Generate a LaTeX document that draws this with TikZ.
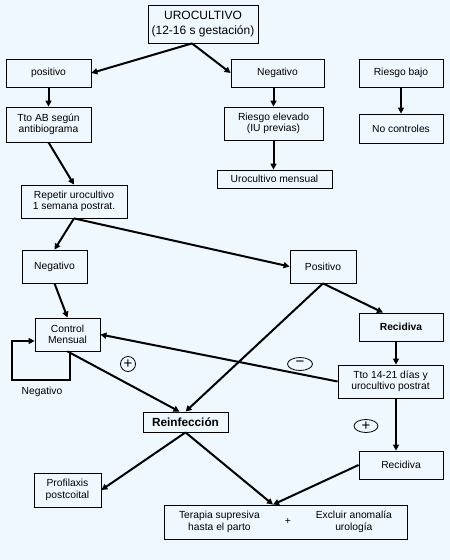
\documentclass[tikz,border=0pt]{standalone}
\usepackage{fontspec}
\setmainfont{Liberation Sans}
\usetikzlibrary{arrows.meta, positioning, shapes.geometric, calc}
\definecolor{fondo}{RGB}{240,248,255}

\begin{document}
\begin{tikzpicture}[x=1pt, y=1pt, on grid]

    \tikzset{
        caja/.style={draw, line width=0.8pt, align=center, inner sep=1pt, font=\fontsize{10.3}{11.5}\selectfont},
        flecha/.style={-{Triangle[length=6pt,width=6pt]}, line width=2pt},
        signo/.style={draw, ellipse, line width=0.8pt, inner sep=0pt, font=\fontsize{15}{15}\selectfont}
    }

    \fill[fondo] (0,0) rectangle (450,-560);
    \useasboundingbox (0,0) rectangle (450,-560);

    % Nodos
    \node[caja, minimum width=110pt, minimum height=38pt, font=\fontsize{12}{15.5}\selectfont] (uro) at (203,-24) {UROCULTIVO\\(12-16 s gestación)};

    \node[caja, minimum width=85pt, minimum height=28pt] (pos) [below left=49pt and 154.5pt of uro] {positivo};
    \node[caja, minimum width=93pt, minimum height=28pt] (neg) [below right=49pt and 74.5pt of uro] {Negativo};
    \node[caja, minimum width=84pt, minimum height=28pt] (rbajo) [right=123.5pt of neg] {Riesgo bajo};

    \node[caja, minimum width=85pt, minimum height=35pt] (ttoab) [below=51.5pt of pos] {Tto AB según\\antibiograma};
    \node[caja, minimum width=99pt, minimum height=33pt] (relev) [below left=50.5pt and 4pt of neg] {Riesgo elevado\\(IU previas)};
    \node[caja, minimum width=84pt, minimum height=29pt] (noctrl) [below=55.5pt of rbajo] {No controles};
    \node[caja, minimum width=115pt, minimum height=18pt] (umens) [below right=55.5pt and 1pt of relev] {Urocultivo mensual};

    \node[caja, minimum width=106pt, minimum height=33pt] (repetir) [below right=77pt and 25.5pt of ttoab] {Repetir urocultivo\\1 semana postrat.};
    \node[caja, minimum width=65pt, minimum height=33pt] (neg2) [below left=65pt and 19.5pt of repetir] {Negativo};
    \node[caja, minimum width=66pt, minimum height=33pt] (posit) [right=268.5pt of neg2] {Positivo};

    \node[caja, minimum width=65pt, minimum height=33pt] (control) [below right=68pt and 13pt of neg2] {Control\\Mensual};
    \node[caja, minimum width=84pt, minimum height=28pt, font=\fontsize{10.3}{11.5}\selectfont\bfseries] (recid) [below right=60.5pt and 78pt of posit] {Recidiva};
    \node[caja, minimum width=105pt, minimum height=33pt] (tto14) [below left=54.5pt and 10.5pt of recid] {Tto 14-21 días y\\urocultivo postrat};

    \node[caja, minimum width=85pt, minimum height=20pt, font=\fontsize{11.8}{13}\selectfont\bfseries] (reinf) [below right=87.5pt and 118pt of control] {Reinfección};
    \node[caja, minimum width=84pt, minimum height=28pt] (recid2) [below=138pt of recid] {Recidiva};
    \node[caja, minimum width=67pt, minimum height=34pt] (profil) [below left=68pt and 118pt of reinf] {Profilaxis\\postcoital};
    \node[caja, minimum width=243pt, minimum height=34pt] (terapia) [below right=100pt and 100pt of reinf]
        {\begin{tabular}{@{}c@{\hspace{25pt}}c@{\hspace{25pt}}c@{}}
            \begin{tabular}{@{}c@{}}Terapia supresiva\\hasta el parto\end{tabular} & + &
            \begin{tabular}{@{}c@{}}Excluir anomalía\\urología\end{tabular}
        \end{tabular}};

    % Signos
    \node[signo, minimum width=15pt, minimum height=15pt] (mas1) [below right=29.5pt and 60.5pt of control] {+};
    \node[signo, minimum width=25pt, minimum height=13pt] (menos) [above left=17.5pt and 90.5pt of tto14] {−};
    \node[signo, minimum width=24pt, minimum height=13pt] (mas2) [below left=44.5pt and 24.5pt of tto14] {+};
    \node[font=\fontsize{10.3}{11.5}\selectfont] (lneg) [below left=57.5pt and 25.5pt of control] {Negativo};

    % Flechas
    \path[flecha]
    ([xshift=-11pt]uro.south) edge (pos.east)
    ([xshift=-11pt]uro.south) edge (neg.west)
    (pos) edge (ttoab)
    (neg.south -| relev.north) edge (relev.north)
    (relev.south) edge (relev.south |- umens.north)
    (rbajo) edge (noctrl)
    (ttoab.south) edge (repetir.north)
    (repetir.south) edge (neg2.north)
    (repetir.south) edge (posit.west)
    (neg2.south) edge (control.north)
    (posit.south) edge ([xshift=-18pt]recid.north)
    (posit.south) edge (reinf.north)
    (control.south) edge ([xshift=-6pt]reinf.north)
    (tto14.west) edge (control.east)
    ([xshift=-5pt]recid.south) edge ([xshift=5.5pt]tto14.north)
    ([xshift=5.5pt]tto14.south) edge ([xshift=-5pt]recid2.north)
    (reinf.south) edge (profil.east)
    (reinf.south) edge ([xshift=-12.5pt]terapia.north)
    (recid2.west) edge ([xshift=-12.5pt]terapia.north);

    % Bucle de control mensual
    \draw[flecha] ([xshift=2.5pt]control.south) -- ++(0,-29) -- ++(-58,0) |- ([yshift=-6.5pt]control.west);

\end{tikzpicture}
\end{document}
